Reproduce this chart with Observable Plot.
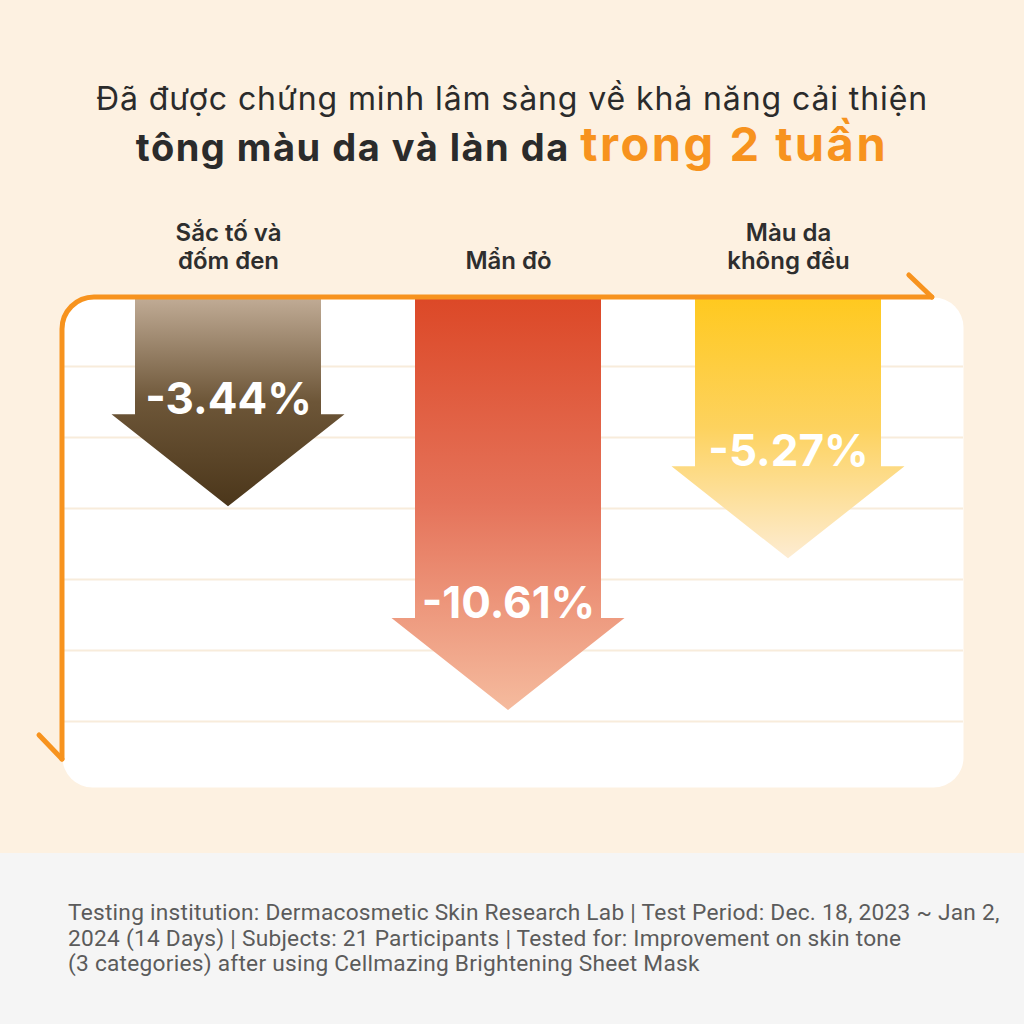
<!DOCTYPE html>
<html>
<head>
<meta charset="utf-8">
<script src="https://cdn.jsdelivr.net/npm/d3@7"></script>
<script src="https://cdn.jsdelivr.net/npm/@observablehq/plot@0.6"></script>
<style>
  html, body { margin: 0; padding: 0; background: #fdf1e1; }
  #page { position: relative; width: 1024px; height: 1024px; overflow: hidden; background: #fdf1e1; font-family: Inter, "Noto Sans", sans-serif; }
  .tl { position: absolute; left: 0; width: 1024px; text-align: center; color: #2b2b2b; line-height: 1; white-space: nowrap; }
  #t1 { top: 83px; font-size: 32px; font-weight: 400; letter-spacing: 0.9px; }
  #t2 { top: 120px; font-size: 38px; font-weight: 700; letter-spacing: 1.5px; }
  #t2 .hl { color: #f7931e; font-size: 47px; letter-spacing: 2.5px; }
  #chart { position: absolute; left: 0; top: 200px; width: 1024px; }
  #footer { position: absolute; left: 0; top: 853px; width: 1024px; height: 171px; background: #f5f5f5; }
  #foot { position: absolute; left: 68px; top: 47px; font-family: Roboto, sans-serif; font-size: 22.7px; line-height: 25.5px; color: #5b5b5b; letter-spacing: 0.25px; white-space: nowrap; }
</style>
</head>
<body>
<div id="page">
  <div id="t1" class="tl">Đã được chứng minh lâm sàng về khả năng cải thiện</div>
  <div id="t2" class="tl">tông màu da và làn da <span class="hl">trong 2 tuần</span></div>
  <div id="chart"></div>
  <div id="footer">
    <div id="foot"></div>
  </div>
</div>
<script>
// ---- data ----
const categories = ["Sắc tố và\nđốm đen", "Mẩn đỏ", "Màu da\nkhông đều"];
const values = [-3.44, -10.61, -5.27];
const valueLabels = ["-3.44%", "-10.61%", "-5.27%"];
const gradientTop = ["#c1ac96", "#dc4827", "#ffc91f"];
const gradientMid = ["#6d5638", "#e5735a", "#fdd25e"];
const gradientBottom = ["#4b361a", "#f5bb9e", "#fdecd2"];
const gridTicks = [1.5, -1, -3.5, -6, -8.5, -11];
const footLines = [
  "Testing institution: Dermacosmetic Skin Research Lab | Test Period: Dec. 18, 2023 ~ Jan 2,",
  "2024 (14 Days) | Subjects: 21 Participants | Tested for: Improvement on skin tone",
  "(3 categories) after using Cellmazing Brightening Sheet Mask"
];

const data = categories.map((c, i) => ({cat: c, value: values[i], label: valueLabels[i], i}));

document.getElementById("foot").innerHTML = footLines.join("<br>");

const W = 1024, H = 620;
const mL = 86.75, mR = 95.75, mT = 97, mB = 33;
const yTop = 3.93, yBottom = -13.32;
const panelExtL = -24.75, panelExtR = -34.75;
const orange = "#f7931e";

const shaftHalf = 93, headHalf = 116.5, headH = 92;

function arrows(index, scales, vals, dims) {
  const g = d3.create("svg:g");
  const defs = g.append("defs");
  const bw = scales.x.bandwidth ? scales.x.bandwidth() : 0;
  for (const i of index) {
    const d = data[i];
    const id = "arrowGrad" + i;
    const lg = defs.append("linearGradient").attr("id", id)
      .attr("x1", 0).attr("y1", 0).attr("x2", 0).attr("y2", 1);
    lg.append("stop").attr("offset", "0%").attr("stop-color", gradientTop[i]);
    lg.append("stop").attr("offset", "50%").attr("stop-color", gradientMid[i]);
    lg.append("stop").attr("offset", "100%").attr("stop-color", gradientBottom[i]);
    const cx = scales.x(d.cat) + bw / 2;
    const y0 = vals.y1 ? vals.y1[i] : scales.y(yTop);
    const y1 = vals.y2 ? vals.y2[i] : scales.y(d.value);
    const yh = y1 - headH;
    const p = d3.path();
    p.moveTo(cx - shaftHalf, y0);
    p.lineTo(cx + shaftHalf, y0);
    p.lineTo(cx + shaftHalf, yh);
    p.lineTo(cx + headHalf, yh);
    p.lineTo(cx, y1);
    p.lineTo(cx - headHalf, yh);
    p.lineTo(cx - shaftHalf, yh);
    p.closePath();
    g.append("path").attr("d", p.toString()).attr("fill", `url(#${id})`);
  }
  return g.node();
}

function axisLine(index, scales, vals, dims) {
  const left = dims.marginLeft + panelExtL;
  const top = scales.y(yTop);
  const right = dims.width - dims.marginRight + 3.6;
  const bottom = scales.y(yBottom) - 28;
  const r = 32;
  const p = d3.path();
  p.moveTo(left, bottom);
  p.lineTo(left, top + r);
  p.arcTo(left, top, left + r, top, r);
  p.lineTo(right, top);
  const g = d3.create("svg:g")
    .attr("fill", "none").attr("stroke", orange).attr("stroke-width", 5)
    .attr("stroke-linecap", "round").attr("stroke-linejoin", "round");
  g.append("path").attr("d", p.toString());
  g.append("path").attr("d", `M${right - 23},${top - 22}L${right},${top}`);
  g.append("path").attr("d", `M${left - 23},${bottom - 24}L${left},${bottom}`);
  return g.node();
}

const chart = Plot.plot({
  width: W,
  height: H,
  marginLeft: mL,
  marginRight: mR,
  marginTop: mT,
  marginBottom: mB,
  style: {background: "transparent", overflow: "visible"},
  x: {type: "band", domain: categories, padding: 0, axis: null},
  y: {domain: [yBottom, yTop], axis: null},
  marks: [
    Plot.frame({fill: "white", stroke: null, rx: 30, insetLeft: panelExtL, insetRight: panelExtR}),
    Plot.ruleY(gridTicks, {stroke: "#f8ecdb", strokeWidth: 2, insetLeft: panelExtL, insetRight: panelExtR}),
    Plot.barY(data, {x: "cat", y1: () => yTop, y2: "value", render: arrows}),
    axisLine,
    Plot.text(data, {x: "cat", y: "value", text: "label", dy: -headH - 1, lineAnchor: "bottom",
      fill: "white", fontSize: 44, fontWeight: 700, fontFamily: "Inter, sans-serif",
      style: {letterSpacing: "-3px"}}),
    Plot.text(data, {x: "cat", frameAnchor: "top", text: "cat", dy: -29, lineAnchor: "bottom",
      fill: "#2e2e2e", fontSize: 24, fontWeight: 600, lineHeight: 1.15, fontFamily: "Inter, sans-serif"})
  ]
});
document.getElementById("chart").appendChild(chart);
</script>
</body>
</html>
